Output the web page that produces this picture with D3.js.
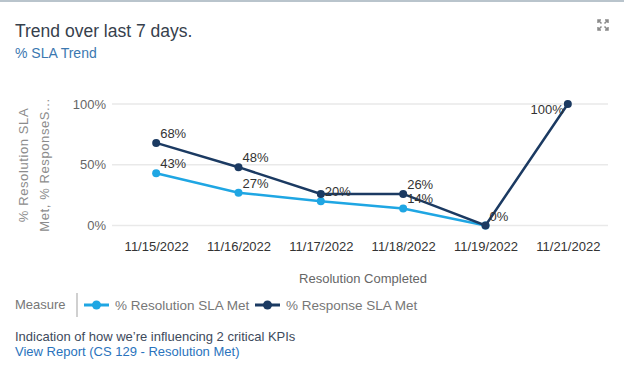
<!DOCTYPE html>
<html>
<head>
<meta charset="utf-8">
<script src="https://cdn.jsdelivr.net/npm/d3@7"></script>
<style>
  body { margin: 0; background: #fff; }
  svg { display: block; font-family: "Liberation Sans", Arial, sans-serif; }
</style>
</head>
<body>
<svg id="chart"></svg>
<script>
// % SLA trend over the last 7 days

const dates = ["11/15/2022", "11/16/2022", "11/17/2022", "11/18/2022", "11/19/2022", "11/21/2022"];
const resolutionMet = [43, 27, 20, 14, 0, null];
const responseMet = [68, 48, 26, 26, 0, 100];
const yTicks = [0, 50, 100];

const width = 624;
const height = 380;

const svg = d3.select("#chart")
    .attr("width", width)
    .attr("height", height);

// card top border
svg.append("rect")
    .attr("x", 0).attr("y", 0)
    .attr("width", width).attr("height", 2)
    .attr("fill", "#b9c4cc");

// header
svg.append("text")
    .attr("x", 15).attr("y", 37)
    .attr("font-size", 17.5)
    .attr("fill", "#36404c")
    .text("Trend over last 7 days.");

svg.append("text")
    .attr("x", 15).attr("y", 58)
    .attr("font-size", 14)
    .attr("fill", "#3b78b0")
    .text("% SLA Trend");

// expand icon
const icon = svg.append("g")
    .attr("transform", "translate(603,25)")
    .attr("stroke", "#8a8a8a")
    .attr("stroke-width", 1.5)
    .attr("fill", "none");
[[-1, -1], [1, -1], [-1, 1], [1, 1]].forEach(([sx, sy]) => {
    icon.append("path")
        .attr("d", `M${sx * 1.5},${sy * 1.5}L${sx * 5},${sy * 5}M${sx * 5},${sy * 2}V${sy * 5}H${sx * 2}`);
});

// scales
const x = d3.scalePoint()
    .domain(dates)
    .range([115, 609])
    .padding(0.5);

const y = d3.scaleLinear()
    .domain([0, 100])
    .range([225.5, 104]);

// gridlines
svg.append("g")
    .selectAll("line")
    .data(yTicks)
    .enter().append("line")
    .attr("x1", 112).attr("x2", 608)
    .attr("y1", d => y(d)).attr("y2", d => y(d))
    .attr("stroke", "#e9e9e9")
    .attr("stroke-width", 1.5);

// y axis
const yAxis = svg.append("g")
    .attr("transform", "translate(106,0)")
    .call(d3.axisLeft(y).tickValues(yTicks).tickSize(0).tickPadding(0).tickFormat(d => d + "%"));
yAxis.select(".domain").remove();
yAxis.selectAll("text")
    .attr("font-size", 13)
    .attr("font-family", "Liberation Sans, Arial, sans-serif")
    .attr("fill", "#666");

// x axis
const xAxis = svg.append("g")
    .attr("transform", "translate(0,238)")
    .call(d3.axisBottom(x).tickSize(0).tickPadding(4));
xAxis.select(".domain").remove();
xAxis.selectAll("text")
    .attr("font-size", 13)
    .attr("font-family", "Liberation Sans, Arial, sans-serif")
    .attr("fill", "#333");

// axis titles
svg.append("text")
    .attr("x", 363).attr("y", 283)
    .attr("text-anchor", "middle")
    .attr("font-size", 13)
    .attr("fill", "#666")
    .text("Resolution Completed");

const yTitle = svg.append("text")
    .attr("transform", "translate(28,165) rotate(-90)")
    .attr("text-anchor", "middle")
    .attr("font-size", 13)
    .attr("fill", "#8c8c8c")
    .attr("letter-spacing", 0.6);
yTitle.append("tspan").attr("x", 0).attr("y", 0).text("% Resolution SLA");
yTitle.append("tspan").attr("x", 0).attr("y", 21).text("Met, % ResponseS...");

// series
const series = [
    { name: "% Resolution SLA Met", values: resolutionMet, color: "#1fa6e3" },
    { name: "% Response SLA Met", values: responseMet, color: "#1b3a62" }
];

const line = d3.line()
    .defined(d => d.v !== null)
    .x(d => x(d.date))
    .y(d => y(d.v));

series.forEach(s => {
    const pts = dates.map((date, i) => ({ date, v: s.values[i] }));
    svg.append("path")
        .datum(pts)
        .attr("d", line)
        .attr("fill", "none")
        .attr("stroke", s.color)
        .attr("stroke-width", 2.5);
    svg.append("g")
        .selectAll("circle")
        .data(pts.filter(d => d.v !== null))
        .enter().append("circle")
        .attr("cx", d => x(d.date))
        .attr("cy", d => y(d.v))
        .attr("r", 4)
        .attr("fill", s.color);
});

// data labels, skipping ones that collide with labels already placed
const placed = [];
const labelLayer = svg.append("g")
    .attr("font-size", 13)
    .attr("fill", "#333");
series.forEach(s => {
    dates.forEach((date, i) => {
        const v = s.values[i];
        if (v === null) return;
        const px = x(date), py = y(v);
        let lx = px + 4, ly = py - 5, anchor = "start";
        if (ly - 12 < 100) { lx = px - 4; ly = py + 10; anchor = "end"; }
        const txt = v + "%";
        const w = txt.length * 8;
        const box = anchor === "start" ? [lx, ly - 11, lx + w, ly] : [lx - w, ly - 11, lx, ly];
        const hit = placed.some(b => b[0] < box[2] && box[0] < b[2] && b[1] < box[3] && box[1] < b[3]);
        if (hit) return;
        placed.push(box);
        labelLayer.append("text")
            .attr("x", lx).attr("y", ly)
            .attr("text-anchor", anchor)
            .text(txt);
    });
});

// legend
svg.append("text")
    .attr("x", 15).attr("y", 309)
    .attr("font-size", 13)
    .attr("fill", "#777")
    .text("Measure");

svg.append("line")
    .attr("x1", 77).attr("x2", 77)
    .attr("y1", 293).attr("y2", 317)
    .attr("stroke", "#d0d0d0")
    .attr("stroke-width", 2);

const legendX = [84, 255];
series.forEach((s, i) => {
    const g = svg.append("g").attr("transform", `translate(${legendX[i]},305)`);
    g.append("line")
        .attr("x1", 0).attr("x2", 25)
        .attr("stroke", s.color)
        .attr("stroke-width", 3);
    g.append("circle")
        .attr("cx", 12.5).attr("r", 4.5)
        .attr("fill", s.color);
    g.append("text")
        .attr("x", 31).attr("y", 4.5)
        .attr("font-size", 13.5)
        .attr("fill", "#777")
        .text(s.name);
});

// footer
svg.append("text")
    .attr("x", 15).attr("y", 341)
    .attr("font-size", 13)
    .attr("fill", "#3d4a5c")
    .text("Indication of how we\u2019re influencing 2 critical KPIs");

svg.append("text")
    .attr("x", 15).attr("y", 356)
    .attr("font-size", 13)
    .attr("fill", "#2a73bd")
    .text("View Report (CS 129 - Resolution Met)");
</script>
</body>
</html>
